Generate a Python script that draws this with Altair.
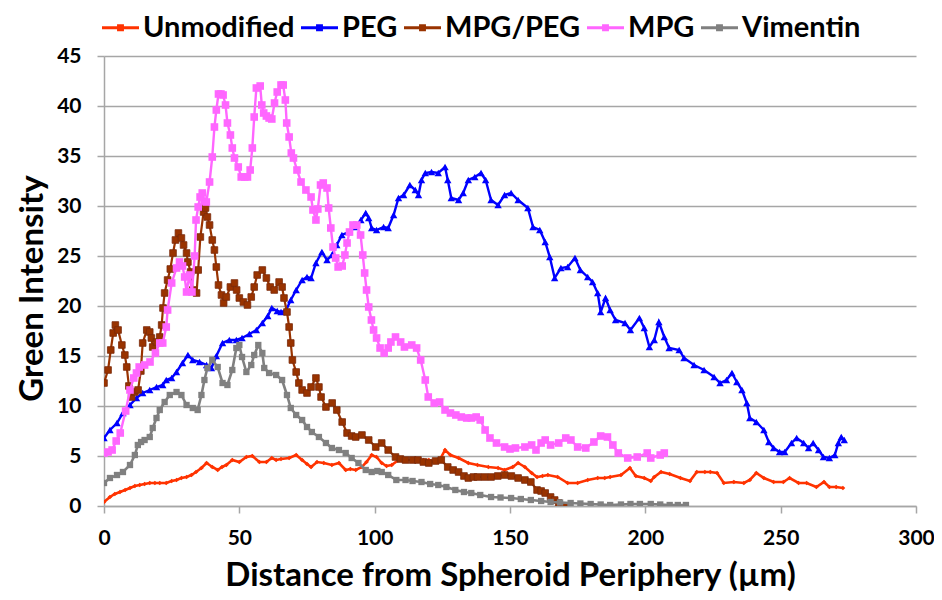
import altair as alt
import pandas as pd

series_names = ["Unmodified", "PEG", "MPG/PEG", "MPG", "Vimentin"]
series_colors = ["#FF3300", "#0000FF", "#993300", "#FF66FF", "#808080"]
x_ticks = [0, 50, 100, 150, 200, 250, 300]
y_ticks = [0, 5, 10, 15, 20, 25, 30, 35, 40, 45]

unmod_x = [0, 2.2, 4, 5.9, 7.8, 9.6, 11.4, 13.2, 15, 16.9, 18.8, 20.6, 23, 25, 26.8, 28.6, 30.5, 32.3, 34, 36, 37.9, 40, 42, 43.6, 45.2, 47.4, 50, 52.6, 54.8, 57.4, 60, 62, 63.6, 65.4, 68.4, 71, 73.2, 75, 76.5, 78.7, 81.2, 84.2, 86.8, 89.3, 91, 93, 95.3, 97, 98.9, 100.7, 102.6, 104.4, 106.3, 108.8, 111, 113.6, 116, 118, 120, 122, 124, 126, 128, 131, 134.6, 138, 142, 145.6, 148, 151, 153, 155.5, 158, 160, 162, 164, 167.6, 171.3, 175, 178.7, 182.4, 185, 187, 191, 194.3, 196.5, 199.6, 202, 203.3, 205.8, 209, 213, 216.5, 219, 222, 224, 226.5, 229, 232.7, 236.4, 238.6, 241, 243.8, 247.4, 251, 253.3, 256.6, 259.6, 263.2, 266, 268, 270.5, 273]
unmod_y = [0.4, 0.9, 1.2, 1.4, 1.6, 1.8, 2.0, 2.1, 2.2, 2.3, 2.3, 2.3, 2.3, 2.5, 2.6, 2.8, 2.9, 3.1, 3.4, 3.8, 4.3, 3.9, 3.6, 3.9, 4.1, 4.6, 4.4, 4.9, 5.0, 4.4, 4.4, 4.8, 4.6, 4.7, 4.8, 5.1, 4.6, 4.2, 3.9, 4.4, 4.3, 4.1, 4.3, 3.6, 3.7, 3.6, 3.9, 4.4, 5.1, 4.9, 4.3, 4.0, 4.1, 4.6, 4.6, 4.6, 4.5, 4.6, 4.6, 4.5, 4.6, 5.6, 5.1, 4.8, 4.3, 4.1, 3.9, 3.8, 3.6, 3.9, 4.3, 3.9, 3.3, 2.9, 3.0, 3.1, 2.9, 2.3, 2.3, 2.6, 2.8, 2.8, 2.9, 3.1, 3.8, 3.0, 2.8, 2.5, 2.9, 3.4, 3.2, 2.8, 2.5, 3.4, 3.4, 3.4, 3.3, 2.3, 2.4, 2.3, 2.6, 3.3, 2.8, 2.4, 2.4, 2.8, 2.3, 2.3, 1.9, 2.4, 1.9, 1.9, 1.8]

peg_x = [0, 2.2, 4.8, 7, 9.6, 12, 14.3, 16.9, 19.4, 21.7, 23, 25, 26.8, 29, 31, 32.8, 35.3, 37.9, 39.7, 41.5, 43.8, 46.3, 48.9, 51, 53.7, 56.3, 58.5, 60.5, 62, 64, 65.4, 67.3, 69, 71, 73.2, 75, 76.5, 78.3, 80.5, 82.4, 84.2, 86, 87.9, 90.4, 93, 94.9, 96.7, 97.8, 98.9, 100.7, 103.3, 105, 107, 108.8, 110.7, 113, 115, 116.2, 117.3, 118.7, 121, 123.5, 126, 127, 128.3, 131, 132.7, 134.6, 137, 139.3, 141, 143, 145.6, 148, 150.4, 153, 156.6, 158.5, 161, 163, 164.7, 166.5, 168.8, 171.3, 174, 176, 178.7, 180.5, 182.4, 183.5, 185.3, 187, 189, 192.5, 194.5, 197.8, 199.6, 201.5, 203.3, 205, 207, 208.8, 212.5, 214.3, 218, 221.7, 225.4, 227.6, 230, 232, 233.8, 235.7, 237.5, 238.6, 241, 243.8, 245.6, 247.4, 249.6, 251.5, 254, 255.9, 258.5, 260.3, 262, 264, 265.8, 268, 270, 271.3, 272.4, 273.5]
peg_y = [6.8, 7.6, 8.3, 9.3, 10.1, 10.8, 11.3, 11.6, 11.9, 12.1, 12.6, 12.8, 13.4, 14.3, 15.1, 14.6, 14.4, 14.1, 13.8, 15.0, 16.3, 16.6, 16.6, 16.8, 17.2, 17.6, 18.3, 19.0, 19.8, 19.5, 19.4, 19.6, 20.6, 21.6, 22.6, 22.9, 22.8, 24.3, 25.4, 24.6, 25.1, 26.1, 27.1, 27.4, 27.9, 28.6, 29.3, 28.8, 27.8, 27.6, 27.9, 27.8, 29.1, 30.8, 31.1, 32.1, 31.6, 31.1, 32.6, 33.3, 33.4, 33.3, 33.9, 32.6, 30.8, 30.6, 31.3, 32.6, 32.9, 33.3, 32.6, 30.6, 30.1, 31.1, 31.3, 30.6, 29.8, 27.9, 27.6, 26.4, 24.9, 22.8, 23.8, 23.9, 24.8, 23.6, 22.9, 22.4, 21.3, 19.4, 20.8, 19.6, 18.6, 18.3, 17.6, 18.8, 17.8, 15.9, 16.6, 18.4, 16.9, 15.8, 15.6, 14.8, 14.1, 13.6, 12.9, 12.3, 12.6, 13.3, 12.4, 11.6, 10.3, 8.8, 8.4, 7.6, 6.4, 5.8, 5.4, 5.4, 6.3, 6.8, 6.3, 5.8, 6.3, 5.6, 4.9, 4.8, 5.1, 6.3, 6.9, 6.6]

mpgpeg_x = [0, 1.5, 2.5, 3.4, 4.2, 5.2, 6.6, 7.7, 8.4, 9.2, 10.2, 11.4, 12.6, 13.6, 14.3, 15.8, 16.9, 17.5, 18, 19.4, 20.6, 21.3, 21.8, 22.4, 23.5, 24.5, 25.5, 26.4, 27.5, 28.6, 29.4, 30.5, 31, 32, 32.8, 34.2, 34.8, 35.6, 36.8, 37.5, 38.2, 39, 40, 40.8, 41.5, 42.3, 43.4, 44.2, 45.2, 46.7, 48.2, 49, 50, 51.5, 53, 54.4, 55.5, 56.6, 58.5, 60, 61.4, 62.9, 64.7, 65.8, 66.5, 67.6, 68.4, 69, 69.6, 71, 72, 73.2, 75, 76.5, 78.3, 79.4, 80.2, 82, 84.3, 86, 88, 89.8, 91.5, 93, 95.3, 97.8, 100.4, 102.6, 105, 107.7, 109.5, 111.4, 114, 116, 118, 120, 122.5, 124.6, 127, 129, 131, 133, 134.6, 136.5, 138, 140.5, 143, 145.5, 148, 150.5, 153, 155.5, 157.7, 160, 161.5, 163, 165, 166.5, 168, 170]
mpgpeg_y = [12.3, 13.6, 15.6, 17.3, 18.1, 17.6, 16.1, 15.1, 13.9, 12.0, 10.9, 11.4, 11.6, 13.5, 16.3, 17.6, 17.4, 16.8, 15.9, 16.4, 16.9, 18.1, 19.8, 21.3, 22.6, 23.7, 25.3, 26.6, 27.3, 26.8, 26.1, 25.3, 24.4, 23.4, 21.6, 21.3, 23.6, 26.9, 29.4, 29.8, 28.9, 28.1, 26.6, 25.6, 23.9, 22.1, 21.1, 20.3, 20.9, 21.9, 22.3, 21.6, 20.8, 20.4, 20.1, 20.9, 21.9, 23.1, 23.6, 22.8, 21.9, 21.6, 22.4, 21.9, 20.8, 19.4, 17.9, 16.3, 14.6, 13.4, 12.3, 11.6, 11.3, 11.9, 12.8, 11.9, 10.9, 9.9, 10.3, 9.6, 8.4, 7.3, 7.0, 6.9, 7.1, 6.6, 5.9, 6.3, 5.6, 4.9, 4.7, 4.6, 4.6, 4.6, 4.4, 4.3, 4.5, 4.6, 3.9, 3.6, 3.4, 3.0, 2.8, 2.9, 2.9, 2.9, 2.9, 3.0, 3.1, 3.0, 2.8, 2.6, 2.4, 1.6, 1.5, 1.3, 0.9, 0.6, 0.3, 0.0]

mpg_x = [0, 1.5, 3, 4.5, 6, 8, 9.6, 11, 12, 13, 15, 17, 19, 20.6, 21.7, 23, 23.5, 25, 26.8, 27.9, 29, 29.8, 30.5, 31.6, 32.5, 33.5, 34, 34.8, 35.5, 36.3, 37, 37.8, 39, 40, 40.8, 41.5, 42.3, 43.2, 44, 44.9, 45.6, 46.7, 47.4, 48.2, 49.6, 50.7, 52, 53, 54, 54.8, 55.5, 56.3, 57.7, 58.3, 59, 60, 61, 62, 63, 64, 65.4, 66.2, 67, 67.5, 68.4, 69.2, 70, 71.3, 72.8, 74.6, 76.5, 77.2, 78.3, 79, 80, 81, 82.4, 83, 83.8, 84.6, 85.6, 86.5, 88, 89, 89.8, 90.7, 92, 93.4, 94.8, 95.6, 96.3, 97, 97.8, 98.8, 99.6, 100.7, 102, 103.5, 105, 106, 107.7, 109.6, 111, 113.7, 115.5, 117, 118.7, 119.8, 122, 124, 126, 128, 130, 132, 134, 135.7, 137.5, 139, 140.8, 142.6, 145, 148, 150, 152, 155.5, 158, 159.6, 161.5, 163, 165, 168, 170.6, 172.5, 175, 178, 181, 183.5, 186, 188, 190, 193.5, 197, 200.7, 202, 205.5, 207]
mpg_y = [5.3, 5.4, 5.6, 6.5, 7.3, 9.5, 11.6, 12.8, 13.3, 13.9, 14.1, 14.4, 15.3, 16.3, 16.3, 17.9, 19.6, 22.3, 23.8, 24.4, 24.0, 22.9, 21.4, 23.1, 21.4, 25.0, 28.6, 29.9, 30.9, 31.3, 30.5, 30.4, 32.4, 34.9, 37.9, 39.6, 41.2, 41.2, 41.1, 40.1, 38.3, 37.1, 35.8, 34.8, 33.9, 32.9, 32.9, 32.9, 33.6, 35.8, 38.9, 41.8, 42.0, 40.1, 39.3, 39.0, 38.8, 38.7, 40.3, 41.4, 42.1, 42.1, 40.6, 38.3, 36.9, 35.3, 34.8, 33.6, 32.4, 31.6, 30.9, 29.6, 28.6, 29.7, 32.1, 32.3, 31.8, 29.8, 27.8, 25.9, 24.8, 23.9, 24.0, 25.1, 26.3, 27.4, 28.1, 28.1, 27.1, 25.1, 23.3, 21.6, 19.9, 18.6, 17.6, 16.8, 15.8, 15.3, 15.8, 16.4, 16.9, 16.4, 15.9, 16.1, 15.8, 14.6, 12.6, 10.9, 10.3, 10.4, 9.6, 9.3, 9.1, 8.9, 8.8, 8.8, 8.9, 8.6, 7.6, 6.8, 6.3, 5.9, 5.7, 5.8, 5.9, 6.1, 5.6, 6.3, 6.6, 6.1, 6.3, 6.8, 6.6, 5.9, 5.8, 6.4, 7.0, 6.9, 6.1, 5.3, 4.8, 4.9, 5.3, 4.8, 5.1, 5.3]

vim_x = [0, 2.2, 4.8, 7, 9.6, 11.4, 12.5, 13.7, 15, 16.9, 18, 19.4, 20.6, 22.4, 24.3, 26.8, 28.6, 30.5, 32.8, 34.6, 36, 37.1, 38.2, 40, 42, 43.8, 45.6, 47.4, 48.9, 50, 51, 52.6, 54.4, 55.5, 57, 58.5, 59.2, 61, 63.6, 65.8, 67.6, 69, 71, 73.2, 75, 76.8, 79.4, 82, 84.2, 86.8, 89.3, 91.5, 94, 96.7, 98.9, 101, 102.6, 105, 108, 111.4, 114, 117.3, 120.5, 123.5, 126.5, 129.8, 133, 135.7, 139, 143, 146.5, 150.4, 154, 157.7, 161.5, 165, 168.5, 172.4, 176, 179.8, 183.5, 187, 191, 194.5, 198, 202, 205.5, 209, 212, 215]
vim_y = [2.3, 2.8, 3.1, 3.4, 4.1, 5.1, 6.1, 6.4, 6.6, 6.9, 7.8, 8.8, 9.6, 10.4, 11.1, 11.4, 11.1, 10.1, 9.8, 9.6, 11.1, 12.6, 13.8, 14.6, 13.9, 12.3, 12.1, 13.6, 15.8, 16.1, 14.9, 13.4, 14.1, 15.1, 16.1, 15.3, 13.8, 13.3, 13.1, 12.6, 11.1, 9.8, 9.1, 8.6, 7.9, 7.4, 6.9, 6.3, 5.8, 5.6, 5.3, 4.8, 4.3, 3.6, 3.4, 3.5, 3.4, 3.1, 2.6, 2.6, 2.5, 2.4, 2.2, 2.1, 1.9, 1.6, 1.4, 1.3, 1.1, 0.9, 0.85, 0.8, 0.7, 0.6, 0.5, 0.4, 0.35, 0.3, 0.25, 0.2, 0.15, 0.1, 0.15, 0.2, 0.2, 0.2, 0.15, 0.1, 0.1, 0.1]

series_data = [(unmod_x, unmod_y), (peg_x, peg_y), (mpgpeg_x, mpgpeg_y), (mpg_x, mpg_y), (vim_x, vim_y)]
marker_shapes = ["diamond", "triangle-up", "square", "square", "square"]
marker_sizes = [22, 55, 44, 58, 40]
line_widths = [2.6, 2.4, 2.2, 2.4, 2.6]

FONT = "Lato"
GRID = "#A6A6A6"

color_scale = alt.Scale(domain=series_names, range=series_colors)
legend_def = alt.Legend(
    orient="none", legendX=-2, legendY=-47, direction="horizontal", columns=5,
    title=None, symbolType="M-1,-0.03H1V0.03H-1Z M-0.14,-0.14H0.14V0.14H-0.14Z",
    symbolSize=1225, symbolStrokeWidth=2, symbolOpacity=1,
    labelFont=FONT, labelFontSize=29, labelFontWeight="bold", labelColor="black",
    labelOffset=4, columnPadding=3, labelLimit=400,
)

x_enc = alt.X(
    "x:Q",
    scale=alt.Scale(domain=[0, 300], nice=False, zero=False),
    axis=alt.Axis(
        values=x_ticks, grid=False, tickSize=7, tickColor=GRID, tickWidth=1.5,
        domainColor=GRID, domainWidth=1.5, labelFont=FONT, labelFontSize=21,
        labelFontWeight="bold", labelColor="black", labelPadding=14, labelFlush=False,
        title="Distance from Spheroid Periphery (µm)", titleFont=FONT, titleFontSize=33,
        titleFontWeight="bold", titleColor="black", titleX=406, titleY=79,
        titleBaseline="alphabetic", titleAlign="center",
    ),
)
y_enc = alt.Y(
    "y:Q",
    scale=alt.Scale(domain=[0, 45], nice=False),
    axis=alt.Axis(
        values=y_ticks, grid=True, gridColor=GRID, gridWidth=1.3, tickSize=7,
        tickColor=GRID, tickWidth=1.5, domainColor=GRID, domainWidth=1.5,
        labelFont=FONT, labelFontSize=21, labelFontWeight="bold", labelColor="black",
        labelPadding=16, title="Green Intensity", titleFont=FONT, titleFontSize=33,
        titleFontWeight="bold", titleColor="black", titleAngle=270, titleX=-72,
        titleY=232, titleBaseline="middle", titleAlign="center",
    ),
)

layers = []
for i, name in enumerate(series_names):
    xs, ys = series_data[i]
    d = pd.DataFrame({"series": name, "x": xs, "y": ys, "order": list(range(len(xs)))})
    base = alt.Chart(d)
    line = base.mark_line(strokeWidth=line_widths[i], clip=True).encode(
        x=x_enc, y=y_enc, order="order:Q",
        color=alt.Color("series:N", scale=color_scale, legend=legend_def),
    )
    pt_kwargs = dict(shape=marker_shapes[i], filled=True, size=marker_sizes[i], opacity=1, clip=True)
    if name == "MPG/PEG":
        pt_kwargs.update(stroke="#7A2A0A", strokeWidth=0.8)
    pts = base.mark_point(**pt_kwargs).encode(
        x=x_enc, y=y_enc,
        color=alt.Color("series:N", scale=color_scale, legend=legend_def),
    )
    layers += [line, pts]

chart = alt.layer(*layers).properties(
    width=812, height=450,
    padding={"left": 96, "top": 48, "right": 18, "bottom": 86},
    autosize=alt.AutoSizeParams(type="none"),
    background="white",
).configure_view(stroke=None)

chart.save("out.html", embed_options={"renderer": "svg", "actions": False})
